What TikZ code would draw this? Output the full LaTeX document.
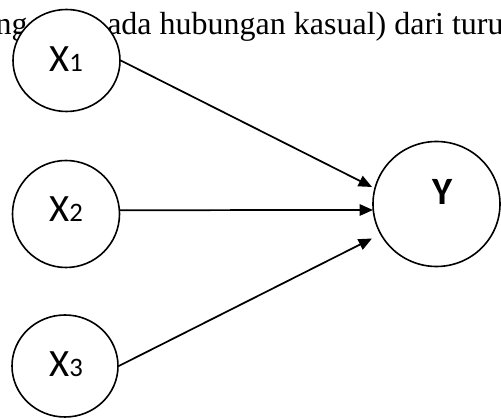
\documentclass[tikz,border=0pt]{standalone}
\usepackage{fontspec}
\setmainfont{Liberation Serif}
\newfontfamily\calibri{Carlito}
\usetikzlibrary{arrows.meta,shapes.geometric}
\begin{document}
\begin{tikzpicture}[x=0.75pt,y=-0.75pt,
  bubble/.style={draw=black,line width=1.2pt,fill=white,ellipse,inner sep=0pt},
  lbl/.style={inner sep=0pt,anchor=base,font=\calibri\fontsize{29}{29}\selectfont},
  conn/.style={draw=black,line width=1.3pt,-{Triangle[length=10pt,width=8.5pt]}},
  bodytext/.style={inner sep=0pt,font=\fontsize{24}{24}\selectfont}]
\useasboundingbox (0,0) rectangle (501,420);
\clip (0,0) rectangle (501,420);
% background text line
\node[bodytext,anchor=base east] (w1) at (28,35) {ng};
\node[bodytext,anchor=base west] (w2) at (107,35) {ada hubungan kasual) dari turun};
% bubbles
\node[bubble,minimum width=80.25pt,minimum height=76.5pt] (c1) at (66.5,60.5) {};
\node[bubble,minimum width=80.25pt,minimum height=80.25pt] (c2) at (66,214) {};
\node[bubble,minimum width=79.5pt,minimum height=76.5pt] (c3) at (65,366) {};
\node[bubble,minimum width=95.25pt,minimum height=93.75pt] (y) at (436.5,204) {};
% labels
\node[lbl] (l1) at (66,72) {X{\fontsize{20}{20}\selectfont 1}};
\node[lbl] (l2) at (66,221.7) {X{\fontsize{20}{20}\selectfont 2}};
\node[lbl] (l3) at (66,376.7) {X{\fontsize{20}{20}\selectfont 3}};
\node[lbl,font=\calibri\bfseries\fontsize{29}{29}\selectfont] (ly) at (442.5,205) {Y};
% arrow tips
\coordinate (t1) at (372,187);
\coordinate (t2) at (373,210);
\coordinate (t3) at (372,238.5);
\draw[conn] (c1.east) -- (t1);
\draw[conn] (c2.4) -- (t2);
\draw[conn] (c3.east) -- (t3);
\end{tikzpicture}
\end{document}
